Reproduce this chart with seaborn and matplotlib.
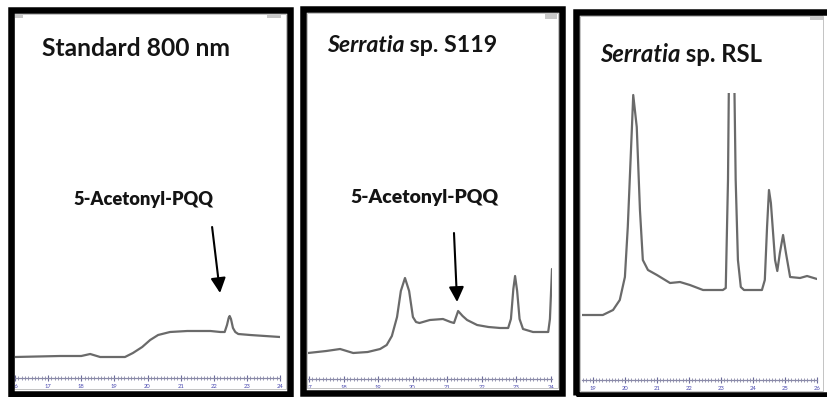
import matplotlib
matplotlib.use("Agg")
import matplotlib.pyplot as plt
import seaborn as sns
from matplotlib.patches import Rectangle
from matplotlib.ticker import MultipleLocator, FormatStrFormatter

# ---------------- data (retention time in min, signal in display units) -------------
p1_time = [16.0, 17.36, 18.0, 18.27, 18.57, 19.32, 19.56, 19.84, 20.08, 20.32, 20.68,
           21.2, 21.9, 22.2, 22.33, 22.40, 22.45, 22.48, 22.52, 22.58, 22.65, 22.74,
           23.1, 24.0]
p1_sig = [21, 22, 22, 24, 21, 21, 25, 31, 38, 43, 46,
          47, 47, 46, 46, 53, 60, 62, 59, 50, 46, 44,
          43, 41]

p2_time = [16.97, 17.5, 17.9, 18.28, 18.7, 19.06, 19.25, 19.4, 19.55, 19.66, 19.78,
           19.9, 20.01, 20.1, 20.2, 20.5, 20.88, 21.1, 21.2, 21.32, 21.45, 21.58,
           21.87, 22.2, 22.54, 22.77, 22.85, 22.92, 22.97, 23.03, 23.1, 23.2, 23.49,
           23.93, 23.98, 24.04]
p2_sig = [26, 28, 30, 26, 27, 30, 34, 43, 62, 88, 101,
          88, 62, 57, 56, 59, 60, 57, 56, 68, 63, 59,
          54, 52, 51, 51, 60, 90, 103, 88, 60, 50, 47,
          47, 60, 110]

p3_time = [18.66, 19.31, 19.63, 19.84, 20.0, 20.09, 20.22, 20.26, 20.37, 20.47, 20.56,
           20.72, 21.0, 21.41, 21.72, 22.03, 22.44, 23.06, 23.15, 23.22, 23.26, 23.40,
           23.46, 23.53, 23.62, 23.72, 24.28, 24.37, 24.44, 24.5, 24.56, 24.69, 24.76,
           24.84, 24.94, 25.03, 25.16, 25.47, 25.69, 26.0]
p3_sig = [65, 65, 70, 80, 103, 153, 253, 285, 253, 170, 120,
          110, 105, 97, 98, 95, 90, 90, 92, 200, 340, 340,
          200, 120, 93, 90, 90, 100, 153, 190, 177, 120, 109,
          127, 145, 127, 103, 102, 104, 101]

titles = [[("Standard 800 nm", "normal")],
          [("Serratia", "italic"), (" sp. S119", "normal")],
          [("Serratia", "italic"), (" sp. RSL", "normal")]]
peak_label = "5-Acetonyl-PQQ"
arrow_tail = [(21.95, 151), (21.20, 146)]
arrow_tip = [(22.19, 85), (21.29, 77)]

# ---------------- style -------------------------------------------------------------
W, H = 828, 397
sns.set_style("white")
plt.rcParams["font.family"] = ["Lato", "DejaVu Sans"]

fig = plt.figure(figsize=(W / 100, H / 100), dpi=100)
fig.patch.set_facecolor("white")


def fx(px):
    return px / W


def fy(py):
    return 1 - py / H


def frame(l, t, r, b, lw_px, color, z=5):
    fig.add_artist(Rectangle((fx(l), fy(b)), (r - l) / W, (b - t) / H,
                             transform=fig.transFigure, fill=False, ec=color,
                             lw=lw_px * 0.72, joinstyle="miter", zorder=z))


def block(l, t, r, b, color):
    fig.add_artist(Rectangle((fx(l), fy(b)), (r - l) / W, (b - t) / H,
                             transform=fig.transFigure, fc=color, ec="none", zorder=4))


panels = [
    dict(time=p1_time, sig=p1_sig, box=(15, 15, 280, 378), xlim=(16.0, 24.0),
         frame=(10.5, 10, 290, 393.5), inner=(14, 14, 286, 389)),
    dict(time=p2_time, sig=p2_sig, box=(308, 15, 552, 379), xlim=(16.97, 24.04),
         frame=(303, 8.5, 562.5, 393), inner=(307, 13, 558, 388)),
    dict(time=p3_time, sig=p3_sig, box=(582, 93, 817, 380), xlim=(18.66, 26.0),
         frame=(576.5, 11.5, 840, 395), inner=(580, 16, 823, 391)),
]

axes = []
for p in panels:
    l, t, r, b = p["box"]
    ax = fig.add_axes([fx(l), fy(b), (r - l) / W, (b - t) / H])
    ax.patch.set_alpha(0)
    sns.lineplot(x=p["time"], y=p["sig"], ax=ax, color="#6a6a6a", linewidth=1.6,
                 sort=False, estimator=None)
    ax.set_xlim(*p["xlim"])
    ax.set_ylim(0, b - t)
    for s in ("top", "left", "right"):
        ax.spines[s].set_visible(False)
    ax.spines["bottom"].set_color("#8a8aa8")
    ax.spines["bottom"].set_linewidth(0.9)
    ax.set_yticks([])
    ax.xaxis.set_major_locator(MultipleLocator(1))
    ax.xaxis.set_minor_locator(MultipleLocator(0.1))
    ax.xaxis.set_major_formatter(FormatStrFormatter("%d"))
    ax.tick_params(axis="x", which="both", bottom=True, top=False)
    ax.tick_params(axis="x", which="major", direction="inout", length=5, width=0.8,
                   color="#6a6a9a", labelsize=4.2, labelcolor="#4848b0", pad=1.5)
    ax.tick_params(axis="x", which="minor", direction="inout", length=2.6, width=0.6,
                   color="#8a8aa8")
    ax.set_xlabel("")
    ax.set_ylabel("")
    axes.append(ax)
    frame(*p["inner"], 1.0, "#c4c4c4", z=3)
    frame(*p["frame"], 6.5, "black")

# small grey window-corner marks
block(15, 14, 23, 18, "#c8c8c8")
block(267, 14, 281, 18, "#c8c8c8")
block(545, 14, 557, 19, "#c8c8c8")
block(810, 15, 823, 20, "#c8c8c8")

# arrows
for ax, tail, tip in zip(axes[:2], arrow_tail, arrow_tip):
    ax.annotate("", xy=tip, xytext=tail,
                arrowprops=dict(arrowstyle="-|>,head_length=0.9,head_width=0.45",
                                color="black", lw=1.5, mutation_scale=10,
                                shrinkA=0, shrinkB=0))

renderer = fig.canvas.get_renderer()


def place_parts(parts, x0, x1, yc, base_size, weight):
    objs = []
    for s, style in parts:
        objs.append(fig.text(fx(x0), fy(yc), s, fontsize=base_size, fontweight=weight,
                             style=style, color="#141414", ha="left", va="center"))

    def layout():
        x = x0
        for o in objs:
            o.set_x(fx(x))
            x += o.get_window_extent(renderer).width
        return x - x0

    total = layout()
    for o in objs:
        o.set_fontsize(base_size * (x1 - x0) / total)
    layout()


title_spec = [(42, 230, 49), (327, 498, 46), (600, 763, 54)]
for parts, (x0, x1, yc) in zip(titles, title_spec):
    place_parts(parts, x0, x1, yc, 15, "bold")

label_spec = [(73, 213, 200), (350, 498, 197)]
for x0, x1, yc in label_spec:
    place_parts([(peak_label, "normal")], x0, x1, yc, 11, "heavy")

fig.savefig("out.png", dpi=100, facecolor="white")
